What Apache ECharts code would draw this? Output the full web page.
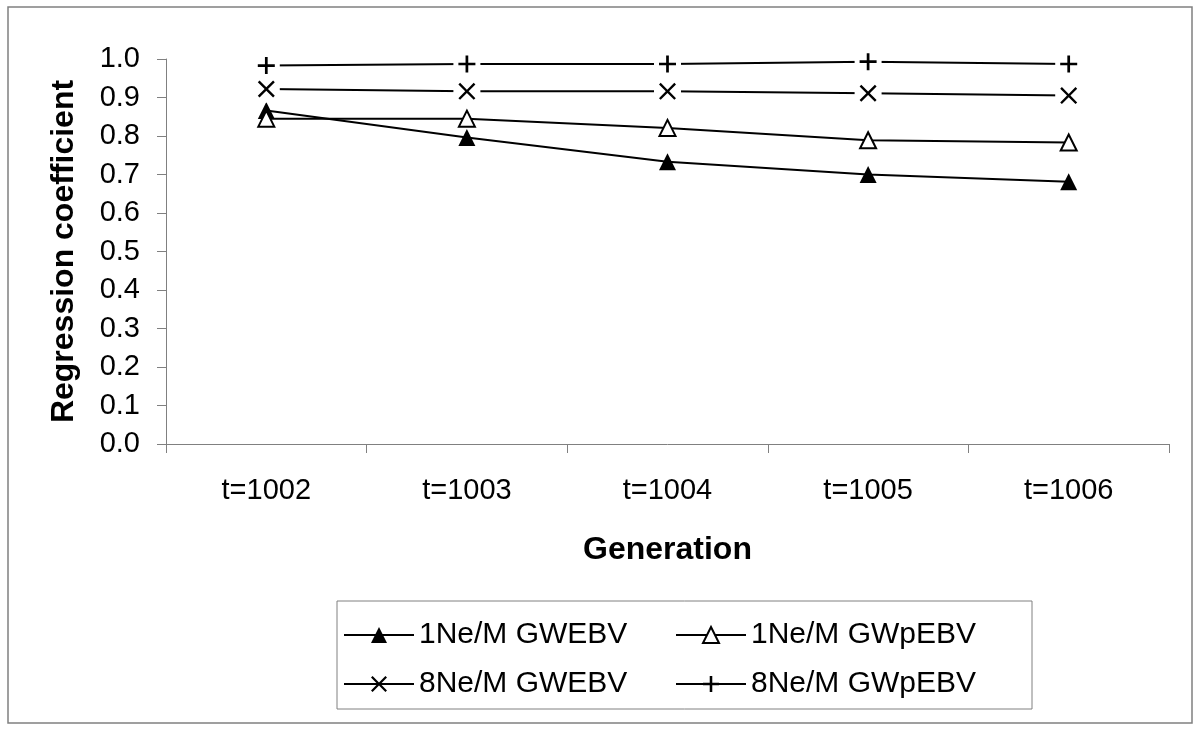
<!DOCTYPE html>
<html>
<head>
<meta charset="utf-8">
<script src="https://cdn.jsdelivr.net/npm/echarts@6/dist/echarts.min.js"></script>
<style>
html,body{margin:0;padding:0;background:#fff;}
#c{width:1200px;height:736px;}
</style>
</head>
<body>
<div id="c"></div>
<script>
var categories = ['t=1002', 't=1003', 't=1004', 't=1005', 't=1006'];
var seriesNames = ['1Ne/M GWEBV', '1Ne/M GWpEBV', '8Ne/M GWEBV', '8Ne/M GWpEBV'];
var ne1GWEBV  = [0.866, 0.796, 0.733, 0.700, 0.681];
var ne1GWpEBV = [0.845, 0.845, 0.821, 0.789, 0.783];
var ne8GWEBV  = [0.922, 0.916, 0.916, 0.911, 0.905];
var ne8GWpEBV = [0.983, 0.987, 0.987, 0.993, 0.987];
var yTicks = { min: 0, max: 1, interval: 0.1 };

var FONT = '"Liberation Sans", Arial, sans-serif';
var plusPath = 'path://M4.2,0 L5.8,0 L5.8,4.2 L10,4.2 L10,5.8 L5.8,5.8 L5.8,10 L4.2,10 L4.2,5.8 L0,5.8 L0,4.2 L4.2,4.2 Z';
var crossPath = 'path://M0,1 L1,0 L5,4 L9,0 L10,1 L6,5 L10,9 L9,10 L5,6 L1,10 L0,9 L4,5 Z';

function mkSeries(name, data, symbol, size, fill) {
  return {
    name: name, type: 'line', data: data, z: 2,
    symbol: symbol, symbolSize: size,
    showAllSymbol: true,
    lineStyle: { color: '#000', width: 2 },
    itemStyle: { color: fill, borderColor: '#000', borderWidth: fill === '#fff' ? 2 : 0 },
    emphasis: { disabled: true },
    animation: false
  };
}
// white halo behind a marker (gap in the line around it), then the marker on top
function haloSeries(data) {
  return {
    name: '_halo', type: 'line', data: data, z: 3,
    symbol: 'rect', symbolSize: 27, showAllSymbol: true,
    lineStyle: { width: 0, opacity: 0 },
    itemStyle: { color: '#fff', borderWidth: 0 },
    emphasis: { disabled: true }, silent: true, animation: false
  };
}
function markerSeries(data, symbol, size) {
  return {
    name: '_marker', type: 'line', data: data, z: 4,
    symbol: symbol, symbolSize: size, showAllSymbol: true,
    lineStyle: { width: 0, opacity: 0 },
    itemStyle: { color: '#000', borderWidth: 0 },
    emphasis: { disabled: true }, silent: true, animation: false
  };
}

var legendCommon = {
  orient: 'vertical', top: 620,
  itemWidth: 70, itemHeight: 20, itemGap: 19, padding: 0,
  lineStyle: { width: 2, color: '#000' },
  textStyle: { fontSize: 30, fontFamily: FONT, color: '#000' }
};

var chart = echarts.init(document.getElementById('c'));
chart.setOption({
  backgroundColor: '#fff',
  animation: false,
  textStyle: { fontFamily: FONT, color: '#000' },
  graphic: [
    { type: 'rect', shape: { x: 8, y: 7, width: 1184, height: 716 },
      style: { fill: 'none', stroke: '#808080', lineWidth: 1.5 }, silent: true },
    { type: 'rect', shape: { x: 337, y: 601, width: 695, height: 108 },
      style: { fill: 'none', stroke: '#808080', lineWidth: 1 }, silent: true }
  ],
  grid: { left: 166, right: 31, top: 59, bottom: 292, containLabel: false },
  legend: [
    Object.assign({ data: [seriesNames[0], seriesNames[2]], left: 343 }, legendCommon),
    Object.assign({ data: [seriesNames[1], seriesNames[3]], left: 675 }, legendCommon)
  ],
  xAxis: {
    type: 'category', data: categories, boundaryGap: true,
    name: 'Generation', nameLocation: 'middle', nameGap: 90,
    nameTextStyle: { fontSize: 32, fontWeight: 'bold', fontFamily: FONT, color: '#000' },
    axisLine: { lineStyle: { color: '#808080', width: 1 } },
    axisTick: { show: true, length: 9, lineStyle: { color: '#808080' } },
    axisLabel: { fontSize: 29, color: '#000', margin: 32, fontFamily: FONT },
    splitLine: { show: false }
  },
  yAxis: {
    type: 'value', min: yTicks.min, max: yTicks.max, interval: yTicks.interval,
    name: 'Regression coefficient', nameLocation: 'middle', nameGap: 86,
    nameTextStyle: { fontSize: 32, fontWeight: 'bold', fontFamily: FONT, color: '#000' },
    axisLine: { show: true, lineStyle: { color: '#808080', width: 1 } },
    axisTick: { show: true, length: 9, lineStyle: { color: '#808080' } },
    axisLabel: { fontSize: 29, color: '#000', margin: 26, fontFamily: FONT,
      formatter: function (v) { return v.toFixed(1); } },
    splitLine: { show: false }
  },
  series: [
    mkSeries(seriesNames[0], ne1GWEBV, 'triangle', 17, '#000'),
    mkSeries(seriesNames[1], ne1GWpEBV, 'triangle', 16, '#fff'),
    mkSeries(seriesNames[2], ne8GWEBV, crossPath, 17, '#000'),
    mkSeries(seriesNames[3], ne8GWpEBV, plusPath, 17, '#000'),
    haloSeries(ne8GWEBV),
    haloSeries(ne8GWpEBV),
    markerSeries(ne8GWEBV, crossPath, 17),
    markerSeries(ne8GWpEBV, plusPath, 17)
  ]
});
</script>
</body>
</html>
